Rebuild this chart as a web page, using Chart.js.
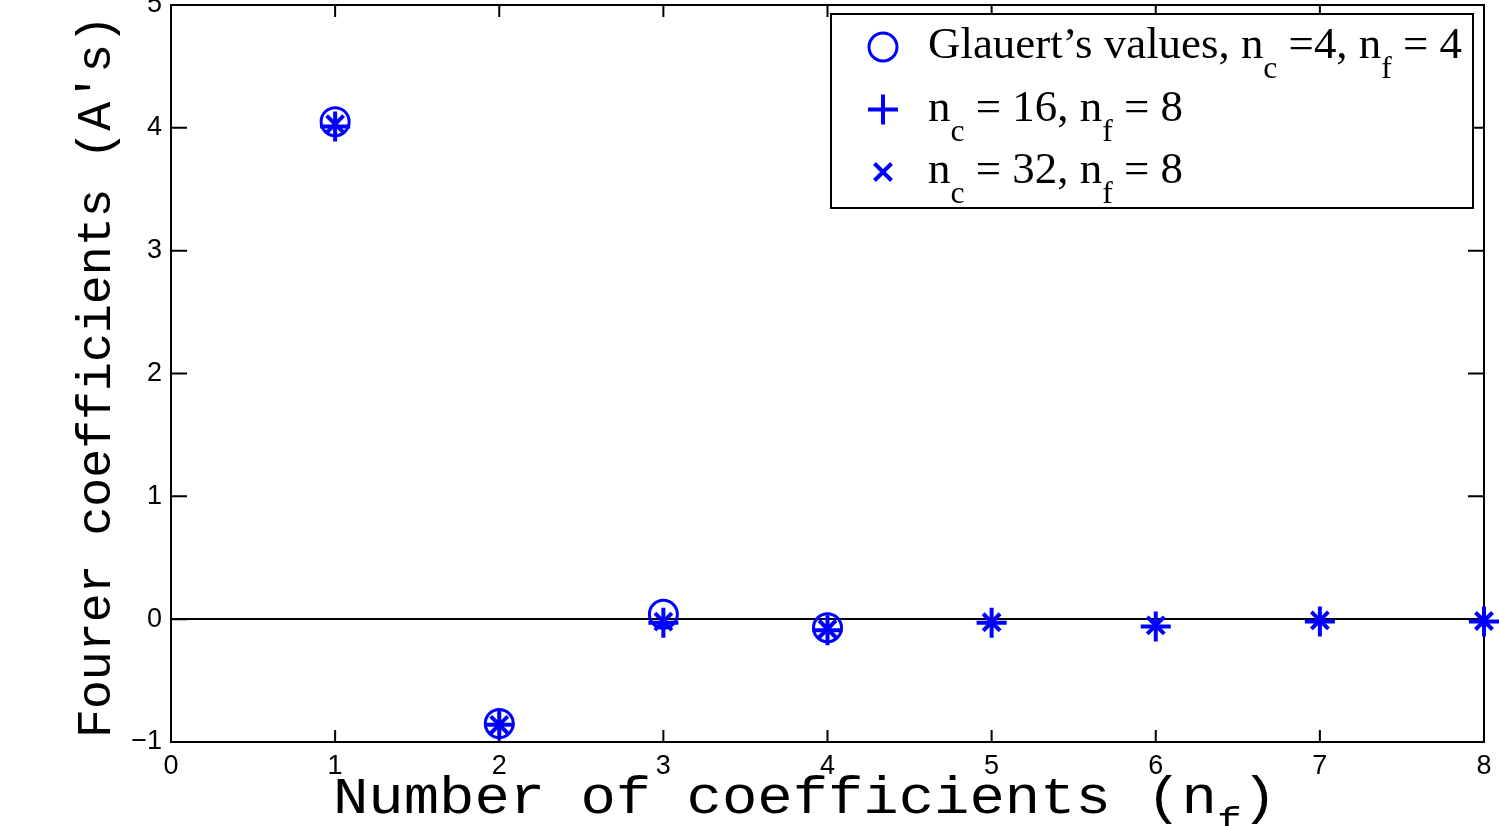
<!DOCTYPE html>
<html>
<head>
<meta charset="utf-8">
<title>Fourier coefficients</title>
<script src="https://cdn.jsdelivr.net/npm/chart.js@4.4.1/dist/chart.umd.min.js"></script>
<style>
  html, body { margin: 0; padding: 0; background: #fff; }
  #chart { display: block; }
</style>
</head>
<body>
<canvas id="chart" width="1499" height="826"></canvas>
<script>
// coefficient index A1..A8
const nCoeff = [1, 2, 3, 4, 5, 6, 7, 8];
// Glauert's values (n_c = 4, n_f = 4) only go up to A4
const glauert = [4.05, -0.85, 0.04, -0.07];
const nc16 = [4.01, -0.86, -0.03, -0.09, -0.03, -0.06, -0.02, -0.02];
const nc32 = [4.03, -0.86, -0.02, -0.08, -0.025, -0.05, -0.01, -0.015];

const xTicks = [0, 1, 2, 3, 4, 5, 6, 7, 8];
const yTicks = [-1, 0, 1, 2, 3, 4, 5];

const BLUE = '#0000ff';
const MONO = '"Liberation Mono", "Courier New", monospace';
const SERIF = '"Liberation Serif", "Times New Roman", serif';
const SANS = '"Liberation Sans", Arial, sans-serif';

function toPoints(vals) {
  return vals.map((v, i) => ({ x: nCoeff[i], y: v }));
}

// text with subscripts, squeezed/stretched to a given width
function drawRich(ctx, parts, x, y, opt) {
  ctx.save();
  let total = 0;
  const widths = parts.map(([t, sub]) => {
    ctx.font = sub ? opt.subFont : opt.font;
    const w = ctx.measureText(t).width;
    total += w;
    return w;
  });
  ctx.translate(x, y);
  if (opt.rotate) ctx.rotate(opt.rotate);
  ctx.scale(opt.width ? opt.width / total : 1, opt.sy || 1);
  ctx.fillStyle = '#000';
  ctx.textAlign = 'left';
  ctx.textBaseline = 'alphabetic';
  let cx = 0;
  parts.forEach(([t, sub], i) => {
    ctx.font = sub ? opt.subFont : opt.font;
    ctx.fillText(t, cx, sub ? opt.subDy : 0);
    cx += widths[i];
  });
  ctx.restore();
}

const legendRows = [
  { ds: 0, parts: [['Glauert\u2019s values, n', false], ['c', true], [' =4, n', false], ['f', true], [' = 4', false]], width: 534 },
  { ds: 1, parts: [['n', false], ['c', true], [' = 16, n', false], ['f', true], [' = 8', false]], width: 255 },
  { ds: 2, parts: [['n', false], ['c', true], [' = 32, n', false], ['f', true], [' = 8', false]], width: 255 }
];

const framePlugin = {
  id: 'frame',
  beforeDatasetsDraw(chart) {
    const { ctx, chartArea: a, scales } = chart;
    ctx.save();
    ctx.strokeStyle = '#000';
    ctx.lineWidth = 2;
    ctx.strokeRect(a.left, a.top, a.right - a.left, a.bottom - a.top);
    ctx.beginPath();
    xTicks.forEach(v => {
      const px = scales.x.getPixelForValue(v);
      ctx.moveTo(px, a.bottom); ctx.lineTo(px, a.bottom - 12);
      ctx.moveTo(px, a.top); ctx.lineTo(px, a.top + 12);
    });
    yTicks.forEach(v => {
      const py = scales.y.getPixelForValue(v);
      ctx.moveTo(a.left, py); ctx.lineTo(a.left + 16, py);
      ctx.moveTo(a.right, py); ctx.lineTo(a.right - 16, py);
    });
    ctx.stroke();
    ctx.restore();
  },
  afterDraw(chart) {
    const { ctx, chartArea: a } = chart;

    // axis titles
    drawRich(ctx, [['Number of coefficients (n', false], ['f', true], [')', false]],
      333, a.bottom + 71, { font: '60px ' + MONO, subFont: '42px ' + MONO, subDy: 22, width: 944, sy: 0.85 });
    drawRich(ctx, [['Fourer coefficients (A\'s)', false]],
      110, a.bottom - 4, { font: '48px ' + MONO, rotate: -Math.PI / 2, width: 723 });

    // legend box
    const lx = a.right - 653, ly = a.top + 9, lw = 642, lh = 194;
    ctx.save();
    ctx.fillStyle = '#fff';
    ctx.fillRect(lx, ly, lw, lh);
    ctx.strokeStyle = '#000';
    ctx.lineWidth = 2;
    ctx.strokeRect(lx, ly, lw, lh);
    ctx.restore();

    legendRows.forEach((row, i) => {
      const ds = chart.data.datasets[row.ds];
      const my = ly + 33 + i * 62.5;
      ctx.save();
      ctx.strokeStyle = BLUE;
      ctx.fillStyle = 'rgba(0,0,0,0)';
      ctx.lineWidth = ds.borderWidth;
      Chart.helpers.drawPoint(ctx, {
        pointStyle: ds.pointStyle, radius: ds.pointRadius, rotation: 0, borderWidth: ds.borderWidth
      }, lx + 52, my);
      ctx.restore();
      drawRich(ctx, row.parts, lx + 97, my + 11,
        { font: '44px ' + SERIF, subFont: '31px ' + SERIF, subDy: 20, width: row.width });
    });
  }
};

new Chart(document.getElementById('chart'), {
  type: 'scatter',
  data: {
    datasets: [
      {
        label: 'Glauert',
        data: toPoints(glauert),
        pointStyle: 'circle',
        pointRadius: 14,
        borderWidth: 3,
        borderColor: BLUE,
        backgroundColor: 'rgba(0,0,0,0)',
        clip: false
      },
      {
        label: 'nc16',
        data: toPoints(nc16),
        pointStyle: 'cross',
        pointRadius: 15,
        borderWidth: 4,
        borderColor: BLUE,
        backgroundColor: BLUE,
        clip: false
      },
      {
        label: 'nc32',
        data: toPoints(nc32),
        pointStyle: 'crossRot',
        pointRadius: 12,
        borderWidth: 4,
        borderColor: BLUE,
        backgroundColor: BLUE,
        clip: false
      }
    ]
  },
  options: {
    responsive: false,
    animation: false,
    events: [],
    layout: { autoPadding: false, padding: { top: 5, right: 15, left: 0, bottom: 0 } },
    plugins: {
      legend: { display: false },
      tooltip: { enabled: false }
    },
    scales: {
      x: {
        type: 'linear',
        min: xTicks[0],
        max: xTicks[xTicks.length - 1],
        afterBuildTicks: s => { s.ticks = xTicks.map(v => ({ value: v })); },
        afterFit: s => { s.height = 84; s.paddingLeft = 0; s.paddingRight = 0; },
        border: { display: false },
        grid: { display: false, drawTicks: false },
        ticks: {
          color: '#000',
          padding: 8,
          autoSkip: false,
          maxRotation: 0,
          font: { family: SANS, size: 27 }
        }
      },
      y: {
        type: 'linear',
        min: yTicks[0],
        max: yTicks[yTicks.length - 1],
        afterBuildTicks: s => { s.ticks = yTicks.map(v => ({ value: v })); },
        afterFit: s => { s.width = 171; s.paddingTop = 0; s.paddingBottom = 0; },
        border: { display: false },
        grid: {
          drawTicks: false,
          lineWidth: 2,
          color: c => (c.tick && c.tick.value === 0 ? '#000' : 'rgba(0,0,0,0)')
        },
        ticks: {
          color: '#000',
          padding: 9,
          font: { family: SANS, size: 27 },
          callback: v => String(v).replace('-', '\u2212')
        }
      }
    }
  },
  plugins: [framePlugin]
});
</script>
</body>
</html>
